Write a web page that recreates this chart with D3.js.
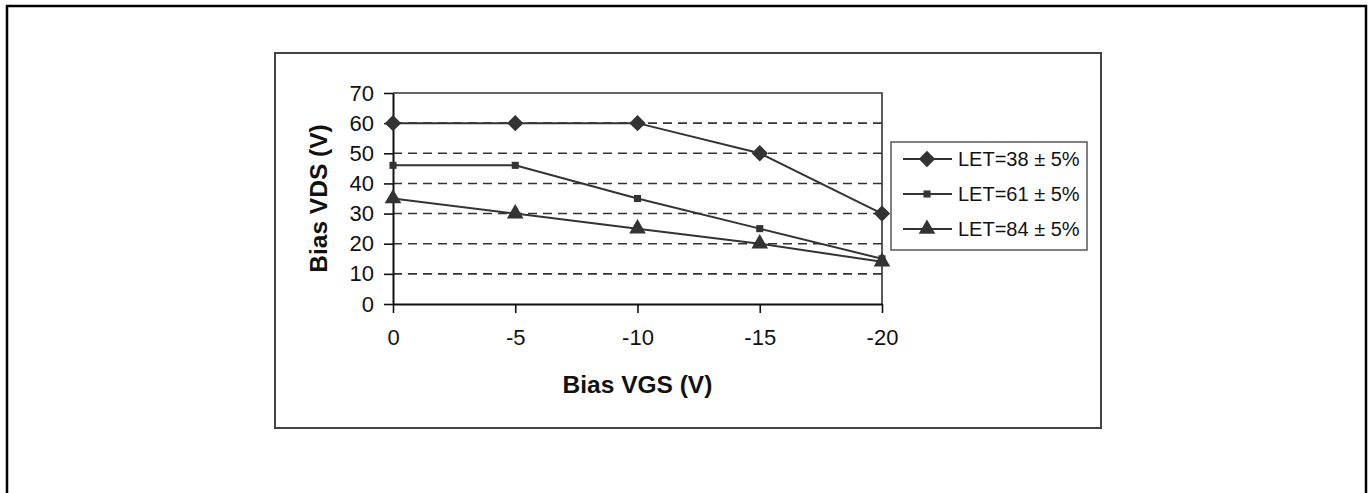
<!DOCTYPE html>
<html>
<head>
<meta charset="utf-8">
<script src="https://cdn.jsdelivr.net/npm/d3@7"></script>
<style>
  body { margin: 0; background: #fff; }
  svg text { font-family: "Liberation Sans", Arial, sans-serif; fill: #111; }
</style>
</head>
<body>
<svg id="chart" width="1370" height="493"></svg>
<script>
// data
var vgs = [0, -5, -10, -15, -20];
var xTicks = [0, -5, -10, -15, -20];
var yTicks = [0, 10, 20, 30, 40, 50, 60, 70];
var let38 = [60, 60, 60, 50, 30];
var let61 = [46, 46, 35, 25, 15];
var let84 = [35, 30, 25, 20, 14];
var seriesNames = ["LET=38 \u00b1 5%", "LET=61 \u00b1 5%", "LET=84 \u00b1 5%"];
var seriesShapes = [d3.symbolDiamond2, d3.symbolSquare, d3.symbolTriangle];

var series = [let38, let61, let84].map(function (vals, i) {
    return { name: seriesNames[i], shape: seriesShapes[i], points: vgs.map(function (v, j) { return [v, vals[j]]; }) };
});

var svg = d3.select("#chart");
var ink = "#333";

// outer page frame
svg.append("rect").attr("x", 7).attr("y", 6).attr("width", 1359).attr("height", 520)
    .attr("fill", "none").attr("stroke", "#000").attr("stroke-width", 2.5);
// chart frame
svg.append("rect").attr("x", 275).attr("y", 53).attr("width", 826).attr("height", 375)
    .attr("fill", "none").attr("stroke", "#444").attr("stroke-width", 2);

var plot = { left: 393, right: 882, top: 93, bottom: 304 };
var x = d3.scaleLinear().domain([0, -20]).range([plot.left, plot.right]);
var y = d3.scaleLinear().domain([0, 70]).range([plot.bottom, plot.top]);

// dashed grid
svg.append("g").selectAll("line").data(yTicks.filter(function (d) { return d > 0 && d < 70; }))
    .join("line")
    .attr("x1", plot.left).attr("x2", plot.right)
    .attr("y1", function (d) { return y(d); }).attr("y2", function (d) { return y(d); })
    .attr("stroke", ink).attr("stroke-width", 1.6).attr("stroke-dasharray", "9,6");

// top and right borders of the plot area
svg.append("path")
    .attr("d", "M" + plot.left + "," + y(70) + "H" + plot.right + "V" + plot.bottom)
    .attr("fill", "none").attr("stroke", ink).attr("stroke-width", 1.6);

var xAxis = svg.append("g").attr("transform", "translate(0," + plot.bottom + ")")
    .call(d3.axisBottom(x).tickValues(xTicks).tickFormat(function (d) { return String(d); })
        .tickSize(9).tickPadding(16).tickSizeOuter(0));
var yAxis = svg.append("g").attr("transform", "translate(" + plot.left + ",0)")
    .call(d3.axisLeft(y).tickValues(yTicks).tickSize(9).tickPadding(10).tickSizeOuter(0));

[xAxis, yAxis].forEach(function (g) {
    g.select(".domain").attr("stroke", "#111").attr("stroke-width", 2);
    g.selectAll(".tick line").attr("stroke", "#111").attr("stroke-width", 1.6);
    g.selectAll(".tick text").attr("font-size", 22).attr("fill", "#111")
        .style("font-family", "'Liberation Sans', Arial, sans-serif");
});
xAxis.selectAll(".tick text").attr("dy", "0.71em");

// axis titles
svg.append("text").attr("x", (plot.left + plot.right) / 2).attr("y", 393)
    .attr("text-anchor", "middle").attr("font-size", 24.5).attr("font-weight", "bold")
    .text("Bias VGS (V)");
svg.append("text").attr("transform", "translate(327," + (plot.top + plot.bottom) / 2 + ") rotate(-90)")
    .attr("text-anchor", "middle").attr("font-size", 24.5).attr("font-weight", "bold")
    .text("Bias VDS (V)");

var line = d3.line().x(function (d) { return x(d[0]); }).y(function (d) { return y(d[1]); });
var sizes = [170, 50, 120];

series.forEach(function (s, i) {
    var g = svg.append("g");
    g.append("path").attr("d", line(s.points)).attr("fill", "none")
        .attr("stroke", ink).attr("stroke-width", 2);
    g.selectAll("path.m").data(s.points).join("path").attr("class", "m")
        .attr("transform", function (d) { return "translate(" + x(d[0]) + "," + y(d[1]) + ")"; })
        .attr("d", d3.symbol().type(s.shape).size(sizes[i]))
        .attr("fill", ink);
});

// legend
var legend = svg.append("g");
legend.append("rect").attr("x", 891).attr("y", 142).attr("width", 196).attr("height", 108)
    .attr("fill", "#fff").attr("stroke", "#555").attr("stroke-width", 1.5);
series.forEach(function (s, i) {
    var cy = 159 + i * 35;
    legend.append("line").attr("x1", 903).attr("x2", 952).attr("y1", cy).attr("y2", cy)
        .attr("stroke", ink).attr("stroke-width", 2);
    legend.append("path").attr("transform", "translate(927," + cy + ")")
        .attr("d", d3.symbol().type(s.shape).size(sizes[i])).attr("fill", ink);
    legend.append("text").attr("x", 958).attr("y", cy).attr("dy", "0.36em")
        .attr("font-size", 20).text(s.name);
});
</script>
</body>
</html>
